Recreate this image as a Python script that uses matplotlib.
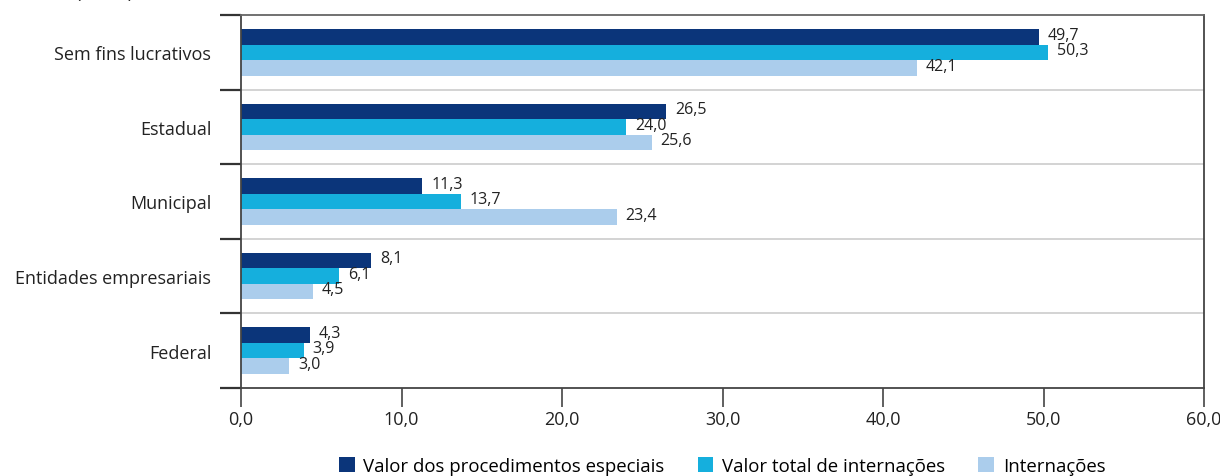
import numpy as np
import matplotlib.pyplot as plt
from matplotlib.patches import Patch

plt.rcParams['font.family'] = ['Open Sans', 'DejaVu Sans']

# Participação por natureza jurídica (%)
categorias = ['Sem fins lucrativos', 'Estadual', 'Municipal', 'Entidades empresariais', 'Federal']
proc_especiais = [49.7, 26.5, 11.3, 8.1, 4.3]
valor_internacoes = [50.3, 24.0, 13.7, 6.1, 3.9]
internacoes = [42.1, 25.6, 23.4, 4.5, 3.0]
series_nomes = ['Valor dos procedimentos especiais', 'Valor total de internações', 'Internações']
cores = ['#0b357a', '#15afdd', '#abcdec']
xticks = [0, 10, 20, 30, 40, 50, 60]

fig = plt.figure(figsize=(12.2, 4.77), dpi=100)
ax = fig.add_axes([241 / 1220, 1 - 389 / 477, (1204 - 241) / 1220, (389 - 16) / 477])

n = len(categorias)
y = np.arange(n)[::-1].astype(float)  # primeira categoria no topo
h = 0.208
series = [proc_especiais, valor_internacoes, internacoes]
for i, (vals, cor) in enumerate(zip(series, cores)):
    pos = y + h - i * h
    ax.barh(pos, vals, height=h, color=cor, edgecolor='none')
    for p, v in zip(pos, vals):
        ax.text(v + 0.55, p + 0.03, f'{v:.1f}'.replace('.', ','), va='center', ha='left',
                fontsize=11.5, color='#222222')

ax.set_xlim(0, 60)
ax.set_ylim(-0.5, n - 0.5)

# separadores entre categorias
for b in np.arange(0.5, n - 0.5, 1.0):
    ax.axhline(b, color='#cccccc', lw=1.2, zorder=0)

ax.set_yticks(np.arange(-0.5, n, 1.0))
ax.set_yticklabels([])
ax.set_yticks(y, minor=True)
ax.set_yticklabels(categorias, minor=True, fontsize=13, color='#222222')
ax.tick_params(axis='y', which='major', length=15, width=1.6, color='#333333')
ax.tick_params(axis='y', which='minor', length=0, pad=21.5)

ax.set_xticks(xticks)
ax.set_xticklabels([f'{t:.1f}'.replace('.', ',') for t in xticks], fontsize=13, color='#222222')
ax.tick_params(axis='x', length=14, width=1.2, color='#444444', pad=2)

for s in ['left', 'bottom', 'right']:
    ax.spines[s].set_color('#444444')
    ax.spines[s].set_linewidth(1.3)
ax.spines['top'].set_color('#666666')
ax.spines['top'].set_linewidth(1.3)

handles = [Patch(facecolor=c, edgecolor='none') for c in cores]
fig.legend(handles, series_nomes, loc='center', bbox_to_anchor=(722 / 1220, 1 - 467 / 477),
           ncol=3, frameon=False, fontsize=13.4, handlelength=0.85, handleheight=0.85,
           handletextpad=0.45, columnspacing=1.8)

fig.text(76 / 1220, 1.0 + 0.014, '(em %)', fontsize=13, color='#222222', va='center')

fig.savefig('out.png', dpi=100)
